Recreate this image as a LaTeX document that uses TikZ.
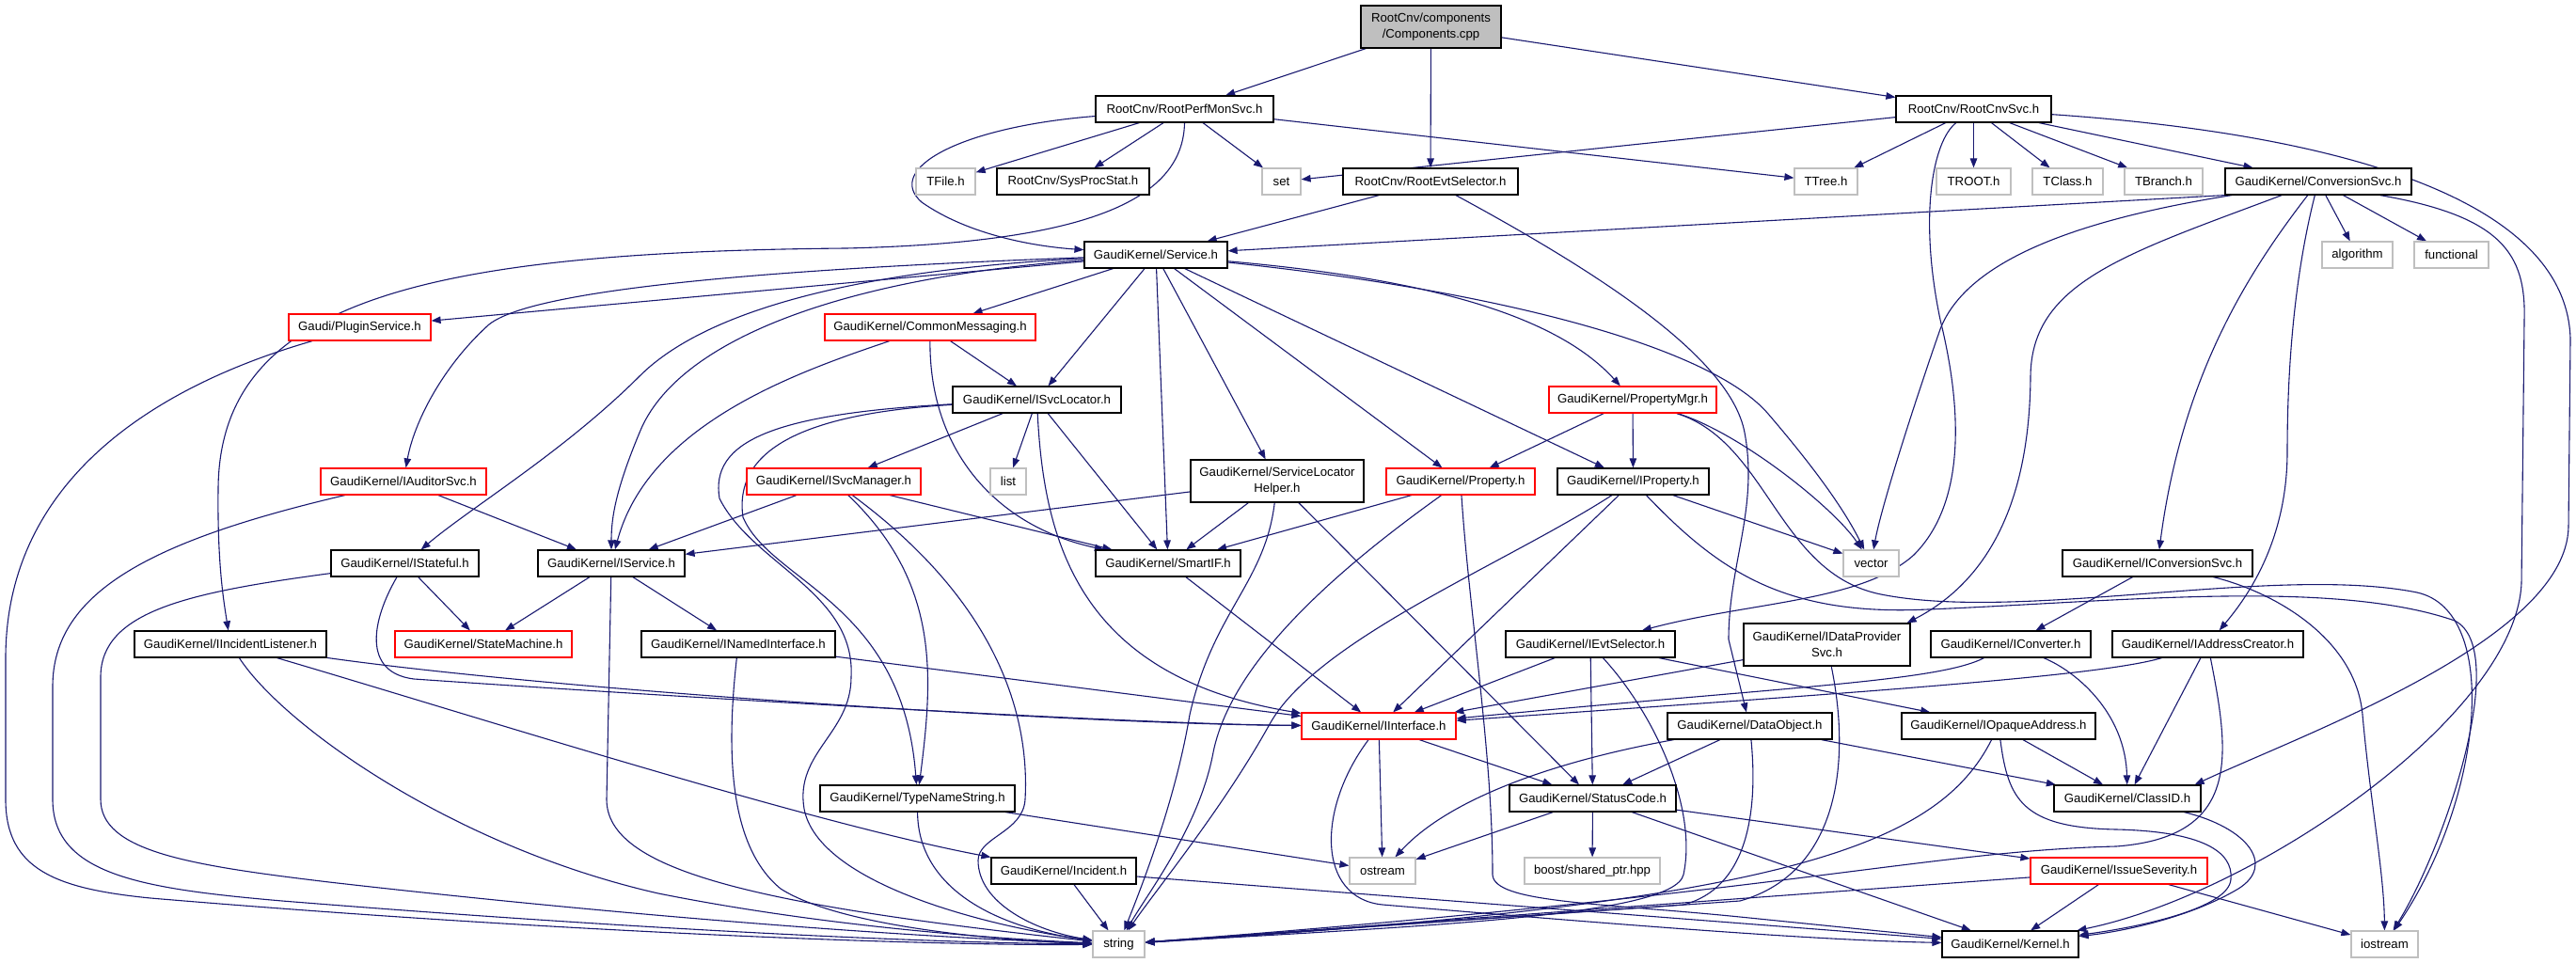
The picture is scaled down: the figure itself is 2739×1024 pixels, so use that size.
\documentclass[tikz,border=0pt]{standalone}
\usepackage{fontspec}
\setmainfont{Liberation Sans}
\usetikzlibrary{arrows.meta}
\definecolor{edgeblue}{HTML}{191970}
\definecolor{extgray}{HTML}{BFBFBF}
\definecolor{truncred}{HTML}{FF0000}
\definecolor{rootgray}{HTML}{BFBFBF}
\pgfdeclarelayer{back}
\pgfdeclarelayer{edges}
\pgfsetlayers{back,edges,main}
\begin{document}
\begin{tikzpicture}[x=1pt,y=-1pt,
  box/.style={rectangle, draw=black, fill=white, line width=1.2pt, inner sep=0pt, align=center, font=\fontsize{13.2}{17}\selectfont, minimum height=28pt},
  redbox/.style={box, draw=truncred},
  graybox/.style={box, draw=extgray},
  rootbox/.style={box, fill=rootgray, minimum height=45pt},
  twoline/.style={minimum height=45pt},
  lnk/.style={draw=edgeblue, line width=1.1pt, -{Triangle[length=10pt,width=7.5pt]}}]
\begin{pgfonlayer}{back}
\fill[white] (0,0) rectangle (2739,1024);
\end{pgfonlayer}
\useasboundingbox (0,0) rectangle (2739,1024);

% ---------- nodes ----------
\node[rootbox, minimum width=149pt] (comp) at (1521.5,28.5) {RootCnv/components\\/Components.cpp};
\node[box, minimum width=189pt] (rpms) at (1259.5,116) {RootCnv/RootPerfMonSvc.h};
\node[box, minimum width=165pt] (rcs) at (2098.5,116) {RootCnv/RootCnvSvc.h};

\node[graybox, minimum width=63pt] (tfile) at (1005.5,193) {TFile.h};
\node[box, minimum width=162pt] (sysproc) at (1141,193) {RootCnv/SysProcStat.h};
\node[graybox, minimum width=41pt] (set) at (1362.5,193) {set};
\node[box, minimum width=186pt] (res) at (1521,193) {RootCnv/RootEvtSelector.h};
\node[graybox, minimum width=67pt] (ttree) at (1941.5,193) {TTree.h};
\node[graybox, minimum width=79pt] (troot) at (2098.5,193) {TROOT.h};
\node[graybox, minimum width=75pt] (tclass) at (2198.5,193) {TClass.h};
\node[graybox, minimum width=83pt] (tbranch) at (2300.5,193) {TBranch.h};
\node[box, minimum width=198pt] (convsvc) at (2465,193) {GaudiKernel/ConversionSvc.h};

\node[box, minimum width=152pt] (service) at (1229,271) {GaudiKernel/Service.h};
\node[graybox, minimum width=75pt] (algorithm) at (2506.5,271) {algorithm};
\node[graybox, minimum width=79pt] (functional) at (2606.5,271) {functional};

\node[redbox, minimum width=151pt] (plugin) at (382.5,348) {Gaudi/PluginService.h};
\node[redbox, minimum width=224pt] (commonmsg) at (989,348) {GaudiKernel/CommonMessaging.h};

\node[box, minimum width=179pt] (isvcloc) at (1102.5,425) {GaudiKernel/ISvcLocator.h};
\node[redbox, minimum width=178pt] (propmgr) at (1736,425) {GaudiKernel/PropertyMgr.h};

\node[redbox, minimum width=176pt] (iauditor) at (429,512) {GaudiKernel/IAuditorSvc.h};
\node[redbox, minimum width=185pt] (isvcmgr) at (886.5,512) {GaudiKernel/ISvcManager.h};
\node[graybox, minimum width=38pt] (list) at (1072,512) {list};
\node[box, twoline, minimum width=184pt] (slh) at (1358,511.5) {GaudiKernel/ServiceLocator\\Helper.h};
\node[redbox, minimum width=158pt] (property) at (1553,512) {GaudiKernel/Property.h};
\node[box, minimum width=161pt] (iproperty) at (1736.5,512) {GaudiKernel/IProperty.h};

\node[box, minimum width=157pt] (istateful) at (430.5,599) {GaudiKernel/IStateful.h};
\node[box, minimum width=156pt] (iservice) at (650,599) {GaudiKernel/IService.h};
\node[box, minimum width=154pt] (smartif) at (1242,599) {GaudiKernel/SmartIF.h};
\node[graybox, minimum width=59pt] (vector) at (1989.5,599) {vector};
\node[box, minimum width=202pt] (iconvsvc) at (2294,599) {GaudiKernel/IConversionSvc.h};

\node[box, minimum width=204pt] (iincident) at (245,685) {GaudiKernel/IIncidentListener.h};
\node[redbox, minimum width=188pt] (statemachine) at (514,685) {GaudiKernel/StateMachine.h};
\node[box, minimum width=206pt] (inamed) at (785,685) {GaudiKernel/INamedInterface.h};
\node[box, minimum width=180pt] (ievtsel) at (1691,685) {GaudiKernel/IEvtSelector.h};
\node[box, twoline, minimum width=177pt] (idataprov) at (1942.5,685.5) {GaudiKernel/IDataProvider\\Svc.h};
\node[box, minimum width=170pt] (iconverter) at (2138,685) {GaudiKernel/IConverter.h};
\node[box, minimum width=203pt] (iaddr) at (2347.5,685) {GaudiKernel/IAddressCreator.h};

\node[redbox, minimum width=164pt] (iinterface) at (1466,772) {GaudiKernel/IInterface.h};
\node[box, minimum width=175pt] (dataobject) at (1860.5,772) {GaudiKernel/DataObject.h};
\node[box, minimum width=206pt] (iopaque) at (2125,772) {GaudiKernel/IOpaqueAddress.h};

\node[box, minimum width=207pt] (typename) at (975.5,849) {GaudiKernel/TypeNameString.h};
\node[box, minimum width=177pt] (statuscode) at (1693.5,849) {GaudiKernel/StatusCode.h};
\node[box, minimum width=156pt] (classid) at (2262,849) {GaudiKernel/ClassID.h};

\node[box, minimum width=154pt] (incident) at (1131,926) {GaudiKernel/Incident.h};
\node[graybox, minimum width=70pt] (ostream) at (1470,926) {ostream};
\node[graybox, minimum width=144pt] (boost) at (1693,926) {boost/shared\_ptr.hpp};
\node[redbox, minimum width=188pt] (issue) at (2253,926) {GaudiKernel/IssueSeverity.h};

\node[graybox, minimum width=55pt] (string) at (1189.5,1004) {string};
\node[box, minimum width=145pt] (kernel) at (2137.5,1004) {GaudiKernel/Kernel.h};
\node[graybox, minimum width=71pt] (iostream) at (2535.5,1004) {iostream};

% ---------- edges ----------
\begin{pgfonlayer}{edges}
% Components.cpp
\draw[lnk] (comp) -- (rpms);
\draw[lnk] (comp) -- (res);
\draw[lnk] (comp) -- (rcs);
% RootPerfMonSvc.h
\draw[lnk] (rpms) -- (tfile);
\draw[lnk] (rpms) -- (sysproc);
\draw[lnk] (rpms) -- (set);
\draw[lnk] (rpms) -- (ttree);
\draw[lnk] (rpms) .. controls (1020,135) and (940,180) .. (980,215) .. controls (1030,250) and (1100,262) .. (service);
\draw[lnk] (rpms.south) .. controls (1258,215) and (1150,258) .. (900,264) .. controls (450,268) and (233,320) .. (232,520) .. controls (231,600) and (238,640) .. (iincident);
% RootEvtSelector.h
\draw[lnk] (res) -- (service);
\draw[lnk] (res) .. controls (1700,290) and (1840,380) .. (1855,460) .. controls (1870,540) and (1838,600) .. (1838,680) -- (dataobject);
% RootCnvSvc.h
\draw[lnk] (rcs) -- (set);
\draw[lnk] (rcs) -- (ttree);
\draw[lnk] (rcs) -- (troot);
\draw[lnk] (rcs) -- (tclass);
\draw[lnk] (rcs) -- (tbranch);
\draw[lnk] (rcs) -- (convsvc);
\draw[lnk] (rcs) .. controls (2055,150) and (2040,230) .. (2063,340) .. controls (2090,450) and (2085,540) .. (2035,590) .. controls (1980,640) and (1860,640) .. (ievtsel);
\draw[lnk] (rcs) .. controls (2450,140) and (2728,200) .. (2733,360) -- (2731,560) .. controls (2729,680) and (2450,780) .. ([xshift=-7pt]classid.north east);
% ConversionSvc.h
\draw[lnk] (convsvc.south west) -- (service);
\draw[lnk] (convsvc) -- (algorithm);
\draw[lnk] (convsvc) -- (functional);
\draw[lnk] (convsvc) .. controls (2200,235) and (2090,280) .. (2063,350) .. controls (2035,430) and (2000,540) .. (vector);
\draw[lnk] (convsvc) .. controls (2260,270) and (2160,300) .. (2159,400) .. controls (2158,540) and (2110,620) .. ([xshift=-4pt]idataprov.north east);
\draw[lnk] (convsvc) .. controls (2390,290) and (2320,400) .. (iconvsvc);
\draw[lnk] (convsvc) .. controls (2438,300) and (2432,400) .. (2432,480) .. controls (2432,580) and (2385,640) .. (iaddr);
\draw[lnk] ([xshift=-34pt]convsvc.south east) .. controls (2660,230) and (2686,270) .. (2684,340) -- (2681,620) .. controls (2675,760) and (2400,950) .. (kernel);
% Service.h
\draw[lnk] (service) -- (plugin);
\draw[lnk] (service) -- (commonmsg);
\draw[lnk] (service) -- (isvcloc);
\draw[lnk] (service) -- (smartif);
\draw[lnk] (service) -- (slh);
\draw[lnk] (service) -- (property);
\draw[lnk] (service) -- (iproperty);
\draw[lnk] (service) .. controls (850,285) and (570,305) .. (520,345) .. controls (470,390) and (440,450) .. (iauditor);
\draw[lnk] (service) .. controls (950,285) and (760,320) .. (680,400) .. controls (600,480) and (500,540) .. (istateful);
\draw[lnk] (service) .. controls (900,295) and (720,360) .. (680,460) .. controls (655,520) and (650,550) .. (iservice);
\draw[lnk] (service) .. controls (1500,295) and (1650,330) .. (propmgr);
\draw[lnk] (service) .. controls (1600,310) and (1820,370) .. (1880,440) .. controls (1940,510) and (1965,550) .. (vector);
% PluginService.h
\draw[lnk] (plugin) .. controls (220,395) and (6,480) .. (6,700) -- (6,850) .. controls (6,925) and (60,945) .. (160,955) .. controls (600,992) and (1000,1006) .. (string);
% CommonMessaging.h
\draw[lnk] (commonmsg) -- (isvcloc);
\draw[lnk] (commonmsg) .. controls (850,395) and (690,450) .. (iservice);
\draw[lnk] (commonmsg) .. controls (988,480) and (1060,560) .. (smartif);
% ISvcLocator.h
\draw[lnk] (isvcloc) -- (isvcmgr);
\draw[lnk] (isvcloc) -- (list);
\draw[lnk] (isvcloc) -- (smartif);
\draw[lnk] (isvcloc) .. controls (1110,580) and (1150,720) .. (iinterface);
\draw[lnk] (isvcloc) .. controls (850,440) and (780,480) .. (790,550) .. controls (820,620) and (960,640) .. (typename);
\draw[lnk] (isvcloc) .. controls (820,440) and (755,470) .. (765,530) .. controls (800,600) and (910,630) .. (905,720) .. controls (905,780) and (845,800) .. (855,860) .. controls (870,940) and (1050,985) .. (string);
% PropertyMgr.h
\draw[lnk] (propmgr) -- (property);
\draw[lnk] (propmgr) -- (iproperty);
\draw[lnk] (propmgr) .. controls (1850,460) and (1950,540) .. (vector);
\draw[lnk] (propmgr) .. controls (1880,470) and (1890,610) .. (2000,632) .. controls (2150,662) and (2420,600) .. (2570,630) .. controls (2660,650) and (2640,850) .. (iostream);
% ISvcManager.h
\draw[lnk] (isvcmgr) -- (iservice);
\draw[lnk] (isvcmgr) -- (smartif);
\draw[lnk] (isvcmgr) .. controls (1000,620) and (992,720) .. (typename);
\draw[lnk] (isvcmgr) .. controls (1060,640) and (1095,760) .. (1090,850) .. controls (1088,885) and (1040,890) .. (1040,915) .. controls (1040,960) and (1100,990) .. (string);
% ServiceLocatorHelper.h
\draw[lnk] (slh) -- (iservice);
\draw[lnk] (slh) -- (smartif);
\draw[lnk] (slh) -- (statuscode);
\draw[lnk] (slh) .. controls (1345,620) and (1290,650) .. (1265,760) .. controls (1250,850) and (1215,940) .. (string);
% Property.h
\draw[lnk] (property) -- (smartif);
\draw[lnk] (property) .. controls (1430,600) and (1310,700) .. (1290,800) .. controls (1275,880) and (1220,950) .. (string);
\draw[lnk] (property) .. controls (1562,650) and (1587,800) .. (1587,930) .. controls (1588,960) and (1700,960) .. (1850,975) -- (kernel);
% IProperty.h
\draw[lnk] (iproperty) -- (iinterface);
\draw[lnk] (iproperty) -- (vector);
\draw[lnk] (iproperty) .. controls (1600,600) and (1400,680) .. (1350,770) .. controls (1300,860) and (1230,945) .. (string);
\draw[lnk] (iproperty) .. controls (1830,610) and (1900,655) .. (2050,648) .. controls (2250,640) and (2480,615) .. (2610,660) .. controls (2670,690) and (2600,900) .. (iostream);
% IAuditorSvc.h
\draw[lnk] (iauditor) -- (iservice);
\draw[lnk] (iauditor) .. controls (160,575) and (56,630) .. (56,730) -- (56,850) .. controls (56,930) and (150,945) .. (300,958) .. controls (700,990) and (1000,1003) .. (string);
% IStateful.h
\draw[lnk] (istateful) -- (statemachine);
\draw[lnk] (istateful) .. controls (395,660) and (385,715) .. (440,722) .. controls (700,740) and (1200,770) .. (iinterface);
\draw[lnk] (istateful) .. controls (200,630) and (107,650) .. (107,720) -- (107,850) .. controls (107,905) and (200,920) .. (350,938) .. controls (700,978) and (1000,998) .. (string);
% IService.h
\draw[lnk] (iservice) -- (statemachine);
\draw[lnk] (iservice) -- (inamed);
\draw[lnk] (iservice) -- (645,850) .. controls (645,925) and (800,962) .. (string);
% SmartIF.h
\draw[lnk] (smartif) -- (iinterface);
% IConversionSvc.h
\draw[lnk] (iconvsvc) -- (iconverter);
\draw[lnk] (iconvsvc) .. controls (2420,630) and (2505,680) .. (2512,760) .. controls (2520,850) and (2535,930) .. (iostream);
% IIncidentListener.h
\draw[lnk] (iincident) .. controls (600,735) and (1150,770) .. (iinterface);
\draw[lnk] (iincident) .. controls (500,760) and (860,875) .. (incident);
\draw[lnk] (iincident) .. controls (300,770) and (480,900) .. (700,950) .. controls (900,990) and (1100,1000) .. (string);
% INamedInterface.h
\draw[lnk] (inamed) -- (iinterface);
\draw[lnk] (inamed) .. controls (772,800) and (775,900) .. (830,945) .. controls (900,990) and (1100,1002) .. (string);
% IEvtSelector.h
\draw[lnk] (ievtsel) -- (iinterface);
\draw[lnk] (ievtsel) -- (statuscode);
\draw[lnk] (ievtsel) -- (iopaque);
\draw[lnk] (ievtsel) .. controls (1760,760) and (1805,860) .. (1790,930) .. controls (1780,975) and (1500,985) .. (string);
% IDataProviderSvc.h
\draw[lnk] (idataprov) -- (iinterface);
\draw[lnk] (idataprov) .. controls (1970,820) and (1950,930) .. (1850,958) -- (string);
% IConverter.h
\draw[lnk] (iconverter) .. controls (2060,725) and (1900,730) .. (iinterface);
\draw[lnk] (iconverter) .. controls (2210,715) and (2260,760) .. (classid);
% IAddressCreator.h
\draw[lnk] (iaddr) .. controls (2230,720) and (1950,738) .. (iinterface);
\draw[lnk] (iaddr) -- (classid);
\draw[lnk] (iaddr) .. controls (2370,800) and (2385,890) .. (2250,900) .. controls (2050,905) and (1900,950) .. (string);
% IInterface.h
\draw[lnk] (iinterface) -- (ostream);
\draw[lnk] (iinterface) -- (statuscode);
\draw[lnk] (iinterface) .. controls (1400,860) and (1400,955) .. (1470,962) .. controls (1800,990) and (1950,1000) .. (kernel);
% DataObject.h
\draw[lnk] (dataobject) -- (classid);
\draw[lnk] (dataobject) -- (statuscode);
\draw[lnk] (dataobject) .. controls (1650,810) and (1540,850) .. (ostream);
\draw[lnk] (dataobject) .. controls (1870,870) and (1855,945) .. (1790,962) -- (string);
% IOpaqueAddress.h
\draw[lnk] (iopaque) -- (classid);
\draw[lnk] (iopaque) .. controls (2060,900) and (1900,960) .. (string);
\draw[lnk] (iopaque) .. controls (2135,850) and (2150,880) .. (2250,882) .. controls (2340,884) and (2375,905) .. (2372,935) .. controls (2370,965) and (2280,985) .. (kernel);
% TypeNameString.h
\draw[lnk] (typename) -- (ostream);
\draw[lnk] (typename) .. controls (976,940) and (1050,985) .. (string);
% StatusCode.h
\draw[lnk] (statuscode) -- (ostream);
\draw[lnk] (statuscode) -- (boost);
\draw[lnk] (statuscode) -- (issue);
\draw[lnk] (statuscode) -- (kernel);
% ClassID.h
\draw[lnk] (classid) .. controls (2390,880) and (2420,920) .. (2380,945) .. controls (2330,975) and (2260,990) .. (kernel);
% Incident.h
\draw[lnk] (incident) -- (string);
\draw[lnk] (incident) -- (kernel);
% IssueSeverity.h
\draw[lnk] (issue) -- (string);
\draw[lnk] (issue) -- (kernel);
\draw[lnk] (issue) -- (iostream);
\end{pgfonlayer}
\end{tikzpicture}
\end{document}
